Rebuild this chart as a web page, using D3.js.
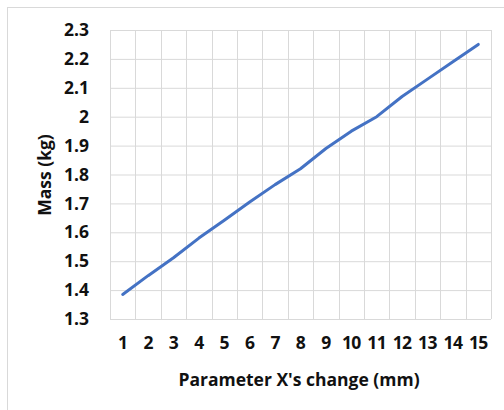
<!DOCTYPE html>
<html>
<head>
<meta charset="utf-8">
<script src="https://cdn.jsdelivr.net/npm/d3@7"></script>
<style>
  body { margin: 0; background: #fff; }
  text { font-family: "Open Sans", Lato, sans-serif; font-weight: 700; fill: #111; }
</style>
</head>
<body>
<svg id="chart"></svg>
<script>
const categories = ["1", "2", "3", "4", "5", "6", "7", "8", "9", "10", "11", "12", "13", "14", "15"];
const massValues = [1.385, 1.45, 1.512, 1.58, 1.642, 1.705, 1.765, 1.82, 1.89, 1.95, 2.0, 2.07, 2.13, 2.19, 2.25];
const yTicks = [1.3, 1.4, 1.5, 1.6, 1.7, 1.8, 1.9, 2.0, 2.1, 2.2, 2.3];

const WIDTH = 504;
const HEIGHT = 410;
const MARGIN = { top: 30, right: 13, bottom: 91, left: 110 };
const INNER_WIDTH = WIDTH - MARGIN.left - MARGIN.right;
const INNER_HEIGHT = HEIGHT - MARGIN.top - MARGIN.bottom;

const SVG = d3.select("#chart")
    .attr("width", WIDTH)
    .attr("height", HEIGHT);

// chart frame (only top and left edges fall inside the picture)
SVG.append("rect")
    .attr("x", 7.5)
    .attr("y", 7.5)
    .attr("width", WIDTH)
    .attr("height", HEIGHT)
    .attr("fill", "none")
    .attr("stroke", "#d9d9d9");

const g = SVG.append("g")
    .attr("transform", "translate(" + MARGIN.left + "," + MARGIN.top + ")");

const xScale = d3.scaleBand()
    .domain(categories)
    .range([0, INNER_WIDTH])
    .padding(0);

const yScale = d3.scaleLinear()
    .domain([1.3, 2.3])
    .range([INNER_HEIGHT, 0]);

// horizontal grid
g.append("g")
    .attr("class", "y axis-grid")
    .call(d3.axisLeft(yScale).tickValues(yTicks).tickSize(-INNER_WIDTH).tickFormat(""))
    .call(s => s.select(".domain").remove())
    .selectAll(".tick line")
    .attr("stroke", "#d9d9d9");

// vertical grid on category boundaries
const bounds = categories.map(c => xScale(c)).concat([INNER_WIDTH]);
g.append("g")
    .attr("class", "x axis-grid")
    .selectAll("line")
    .data(bounds)
    .enter()
    .append("line")
    .attr("x1", d => Math.round(d) + 0.5)
    .attr("x2", d => Math.round(d) + 0.5)
    .attr("y1", 0)
    .attr("y2", INNER_HEIGHT)
    .attr("stroke", "#d9d9d9");

// y axis labels
g.append("g")
    .attr("class", "y axis")
    .call(d3.axisLeft(yScale).tickValues(yTicks).tickSize(0).tickPadding(21).tickFormat(d => d3.format("")(+d.toFixed(1))))
    .call(s => s.select(".domain").remove())
    .selectAll("text")
    .attr("font-size", "17.5px");

// x axis labels
g.append("g")
    .attr("class", "x axis")
    .attr("transform", "translate(0," + INNER_HEIGHT + ")")
    .call(d3.axisBottom(xScale).tickSize(0).tickPadding(18))
    .call(s => s.select(".domain").remove())
    .selectAll("text")
    .attr("font-size", "17.5px")
    .attr("letter-spacing", "-0.6px");

// line
const line = d3.line()
    .x((d, i) => xScale(categories[i]) + xScale.bandwidth() / 2)
    .y(d => yScale(d));

g.append("path")
    .datum(massValues)
    .attr("fill", "none")
    .attr("stroke", "#4472c4")
    .attr("stroke-width", 3)
    .attr("stroke-linecap", "round")
    .attr("stroke-linejoin", "round")
    .attr("d", line);

// axis titles
SVG.append("text")
    .attr("x", 299)
    .attr("y", 386)
    .attr("text-anchor", "middle")
    .attr("font-size", "17.5px")
    .text("Parameter X's change (mm)");

SVG.append("text")
    .attr("transform", "translate(51,175) rotate(-90)")
    .attr("text-anchor", "middle")
    .attr("font-size", "17.5px")
    .text("Mass (kg)");
</script>
</body>
</html>
